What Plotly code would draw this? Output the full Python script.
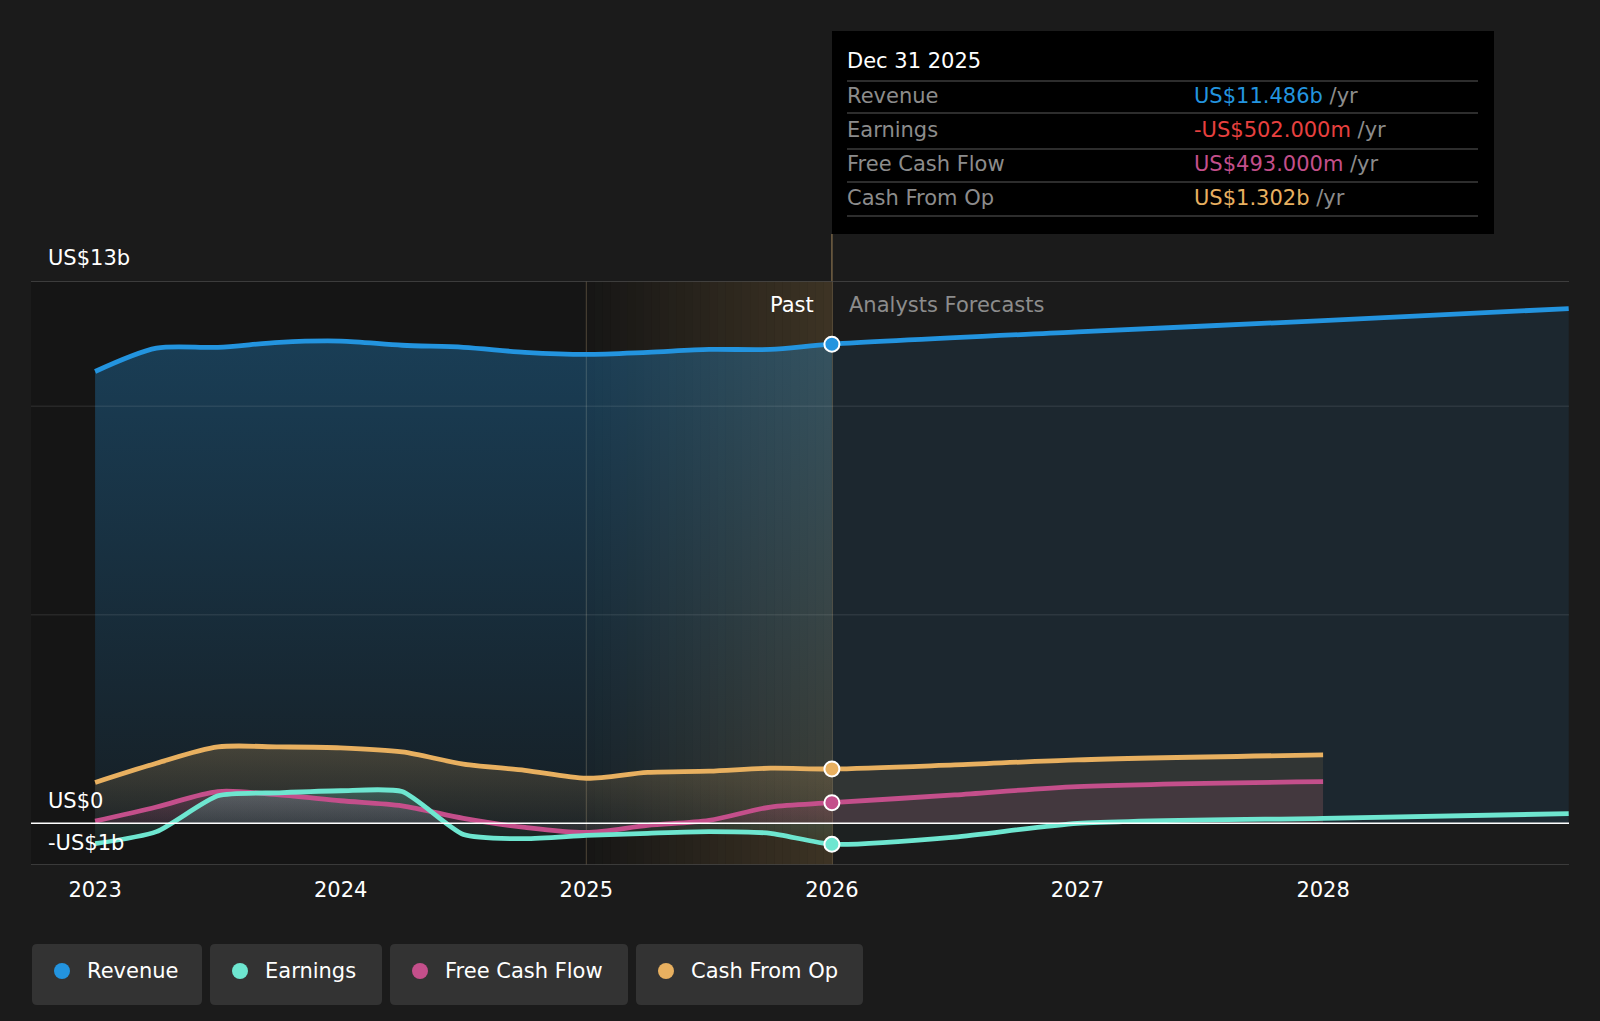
import plotly.graph_objects as go

# ---------------- data ----------------
past_x = [2023.0, 2023.25, 2023.5, 2023.75, 2024.0, 2024.25, 2024.5, 2024.75,
          2025.0, 2025.25, 2025.5, 2025.75, 2026.0]
revenue_past = [10.83, 11.39, 11.41, 11.53, 11.56, 11.46, 11.41, 11.29,
                11.24, 11.29, 11.36, 11.36, 11.486]
earnings_past = [-0.49, -0.20, 0.66, 0.73, 0.78, 0.76, -0.27, -0.37,
                 -0.29, -0.24, -0.20, -0.24, -0.502]
fcf_past = [0.05, 0.39, 0.76, 0.68, 0.54, 0.42, 0.12, -0.10,
            -0.22, -0.05, 0.07, 0.39, 0.493]
cfo_past = [0.98, 1.44, 1.83, 1.83, 1.81, 1.71, 1.42, 1.27,
            1.08, 1.22, 1.25, 1.32, 1.302]

rev_fc_x = [2027.0, 2028.0, 2029.0]
revenue_fc = [11.78, 12.05, 12.34]
earn_fc_x = [2026.5, 2027.0, 2028.0, 2029.0]
earnings_fc = [-0.33, 0.0, 0.12, 0.23]
cash_fc_x = [2026.5, 2027.0, 2028.0]
fcf_fc = [0.68, 0.88, 1.00]
cfo_fc = [1.40, 1.52, 1.64]

tick_years = [2023, 2024, 2025, 2026, 2027, 2028]
tick_labels = ["2023", "2024", "2025", "2026", "2027", "2028"]

series_names = ["Revenue", "Earnings", "Free Cash Flow", "Cash From Op"]
series_colors = ["#2394df", "#6ee6d0", "#c44f8b", "#e8b060"]

tooltip_date = "Dec 31 2025"
tooltip_values = ["US$11.486b", "-US$502.000m", "US$493.000m", "US$1.302b"]
tooltip_value_colors = ["#2394df", "#e8403f", "#c44f8b", "#e8b060"]

# ---------------- layout geometry ----------------
OFF = 8  # page offset of the figure in the browser
W, H = 1600 - OFF, 1021 - OFF
L, R, T = 23, 31, 273
B = H - (865 - OFF)
PW, PH = W - L - R, H - T - B
X0 = 2022.739
X1 = X0 + PW / 245.6
FONT = "DejaVu Sans"
BG = "#1b1b1b"


def px(xp):
    return (xp - OFF - L) / PW


def py(yp):
    return (H - B - (yp - OFF)) / PH


def rgba(hexc, a):
    h = hexc.lstrip("#")
    r, g, b = int(h[0:2], 16), int(h[2:4], 16), int(h[4:6], 16)
    return f"rgba({r},{g},{b},{a})"


fig = go.Figure()

past_series = [revenue_past, earnings_past, fcf_past, cfo_past]
fc_series = [(rev_fc_x, revenue_fc), (earn_fc_x, earnings_fc),
             (cash_fc_x, fcf_fc), (cash_fc_x, cfo_fc)]
past_alpha = [(0.08, 0.32), (0.05, 0.22), (0.08, 0.25), (0.05, 0.22)]
fc_alpha = [0.10, 0.03, 0.12, 0.10]
smooth = [0.85, 0.6, 0.85, 0.85]

draw_order = [0, 3, 2, 1]
for i in draw_order:
    c = series_colors[i]
    a0, a1 = past_alpha[i]
    fig.add_trace(go.Scatter(
        x=past_x, y=past_series[i], mode="lines",
        line=dict(width=0, shape="spline", smoothing=smooth[i]),
        fill="tozeroy",
        fillgradient=dict(type="vertical",
                          colorscale=[[0, rgba(c, a0)], [1, rgba(c, a1)]]),
        hoverinfo="skip", showlegend=False))
    fx, fy = fc_series[i]
    fig.add_trace(go.Scatter(
        x=[past_x[-1]] + fx, y=[past_series[i][-1]] + fy, mode="lines",
        line=dict(width=0, shape="spline", smoothing=smooth[i]),
        fill="tozeroy", fillcolor=rgba(c, fc_alpha[i]),
        hoverinfo="skip", showlegend=False))

for i in draw_order:
    c = series_colors[i]
    fx, fy = fc_series[i]
    fig.add_trace(go.Scatter(
        x=past_x + fx, y=past_series[i] + fy, mode="lines",
        line=dict(color=c, width=4.8, shape="spline", smoothing=smooth[i]),
        hoverinfo="skip", showlegend=False, name=series_names[i]))

# markers at Dec 31 2025
for i in draw_order:
    fig.add_trace(go.Scatter(
        x=[past_x[-1]], y=[past_series[i][-1]], mode="markers",
        marker=dict(size=15, color=series_colors[i],
                    line=dict(color="white", width=2)),
        hoverinfo="skip", showlegend=False))

shapes = []
# darker past background
shapes.append(dict(type="rect", xref="x", yref="y", x0=X0, x1=2026.0,
                   y0=-1, y1=13, fillcolor="#151515", line_width=0,
                   layer="below"))
# highlight gradient 2025 -> 2026
N = 30
for k in range(N):
    a = 0.01 + 0.23 * (k + 0.5) / N
    shapes.append(dict(type="rect", xref="x", yref="y",
                       x0=2025 + k / N, x1=2025 + (k + 1) / N,
                       y0=-1, y1=13, fillcolor=f"rgba(190,150,85,{a:.3f})",
                       line_width=0, layer="below"))
# gridlines
for gv, gc in [(5, "rgba(255,255,255,0.08)"), (10, "rgba(255,255,255,0.08)"),
               (13, "#4a4a4a"), (-1, "#474747")]:
    shapes.append(dict(type="line", xref="paper", yref="y", x0=0, x1=1,
                       y0=gv, y1=gv, line=dict(color=gc, width=1.5),
                       layer="above"))
# line at 2025
shapes.append(dict(type="line", xref="x", yref="y", x0=2025, x1=2025,
                   y0=-1, y1=13, line=dict(color="rgba(120,105,80,0.6)", width=1),
                   layer="below"))
# zero line
shapes.append(dict(type="line", xref="paper", yref="y", x0=0, x1=1,
                   y0=0, y1=0, line=dict(color="#ffffff", width=1.6),
                   layer="above"))
# vertical line at 2026
shapes.append(dict(type="line", xref="x", yref="paper", x0=2026, x1=2026,
                   y0=0, y1=py(234), line=dict(color="rgba(125,105,72,0.9)", width=1.5),
                   layer="below"))
# tooltip box
shapes.append(dict(type="rect", xref="paper", yref="paper",
                   x0=px(832), x1=px(1494), y0=py(234), y1=py(31),
                   fillcolor="#000000", line_width=0, layer="above"))
for sy in [81, 113, 149, 182, 216]:
    shapes.append(dict(type="line", xref="paper", yref="paper",
                       x0=px(847), x1=px(1478), y0=py(sy), y1=py(sy),
                       line=dict(color="#3c3c3c", width=1.5), layer="above"))

annotations = []
FS = 21
# y labels
for txt, yy in [("US$13b", 258), ("US$0", 801), ("-US$1b", 843)]:
    annotations.append(dict(text=txt, xref="paper", yref="paper", x=px(46),
                            y=py(yy), xanchor="left", yanchor="middle",
                            showarrow=False, font=dict(color="#ffffff", size=FS, family=FONT)))
annotations.append(dict(text="Past", xref="paper", yref="paper", x=px(816), y=py(305),
                        xanchor="right", yanchor="middle", showarrow=False,
                        font=dict(color="#ffffff", size=FS, family=FONT)))
annotations.append(dict(text="Analysts Forecasts", xref="paper", yref="paper", x=px(847),
                        y=py(305), xanchor="left", yanchor="middle", showarrow=False,
                        font=dict(color="#8c8c8c", size=FS, family=FONT)))
# tooltip text
annotations.append(dict(text=tooltip_date, xref="paper", yref="paper", x=px(845),
                        y=py(61), xanchor="left", yanchor="middle", showarrow=False,
                        font=dict(color="#ffffff", size=FS, family=FONT)))
row_y = [96, 130, 164, 198]
for i in range(4):
    annotations.append(dict(text=series_names[i], xref="paper", yref="paper",
                            x=px(845), y=py(row_y[i]), xanchor="left", yanchor="middle",
                            showarrow=False, font=dict(color="#8c8c8c", size=FS, family=FONT)))
    annotations.append(dict(
        text=f'<span style="color:{tooltip_value_colors[i]}">{tooltip_values[i]}</span> /yr',
        xref="paper", yref="paper", x=px(1192), y=py(row_y[i]),
        xanchor="left", yanchor="middle", showarrow=False,
        font=dict(color="#8c8c8c", size=FS, family=FONT)))

# legend (rounded boxes)
leg_boxes = [(32, 202), (210, 382), (390, 628), (636, 863)]
leg_y0, leg_y1, leg_cy = 944, 1005, 971
rr = 5
for i, (bx0, bx1) in enumerate(leg_boxes):
    xa, xb = px(bx0), px(bx1)
    ya, yb = py(leg_y1), py(leg_y0)
    rx, ry = rr / PW, rr / PH
    path = (f"M{xa+rx},{ya} L{xb-rx},{ya} Q{xb},{ya} {xb},{ya+ry} "
            f"L{xb},{yb-ry} Q{xb},{yb} {xb-rx},{yb} L{xa+rx},{yb} "
            f"Q{xa},{yb} {xa},{yb-ry} L{xa},{ya+ry} Q{xa},{ya} {xa+rx},{ya} Z")
    shapes.append(dict(type="path", xref="paper", yref="paper", path=path,
                       fillcolor="#333333", line_width=0, layer="above"))
    cx = bx0 + 30
    shapes.append(dict(type="circle", xref="paper", yref="paper",
                       x0=px(cx - 8), x1=px(cx + 8), y0=py(leg_cy + 8), y1=py(leg_cy - 8),
                       fillcolor=series_colors[i], line_width=0, layer="above"))
    annotations.append(dict(text=series_names[i], xref="paper", yref="paper",
                            x=px(bx0 + 53), y=py(leg_cy), xanchor="left", yanchor="middle",
                            showarrow=False, font=dict(color="#ffffff", size=FS, family=FONT)))

fig.update_layout(
    width=W, height=H,
    margin=dict(l=L, r=R, t=T, b=B),
    paper_bgcolor=BG, plot_bgcolor=BG,
    showlegend=False,
    shapes=shapes, annotations=annotations,
    font=dict(family=FONT, color="#ffffff", size=FS),
    xaxis=dict(range=[X0, X1], tickvals=tick_years, ticktext=tick_labels,
               showgrid=False, zeroline=False, showline=False,
               ticks="outside", ticklen=6, tickcolor="rgba(0,0,0,0)",
               tickfont=dict(color="#ffffff", size=FS, family=FONT)),
    yaxis=dict(range=[-1, 13], showgrid=False, zeroline=False,
               showticklabels=False, showline=False),
)

fig.write_html("out.html",
               post_script=f"document.body.style.background='{BG}';"
                           f"document.documentElement.style.background='{BG}';")
